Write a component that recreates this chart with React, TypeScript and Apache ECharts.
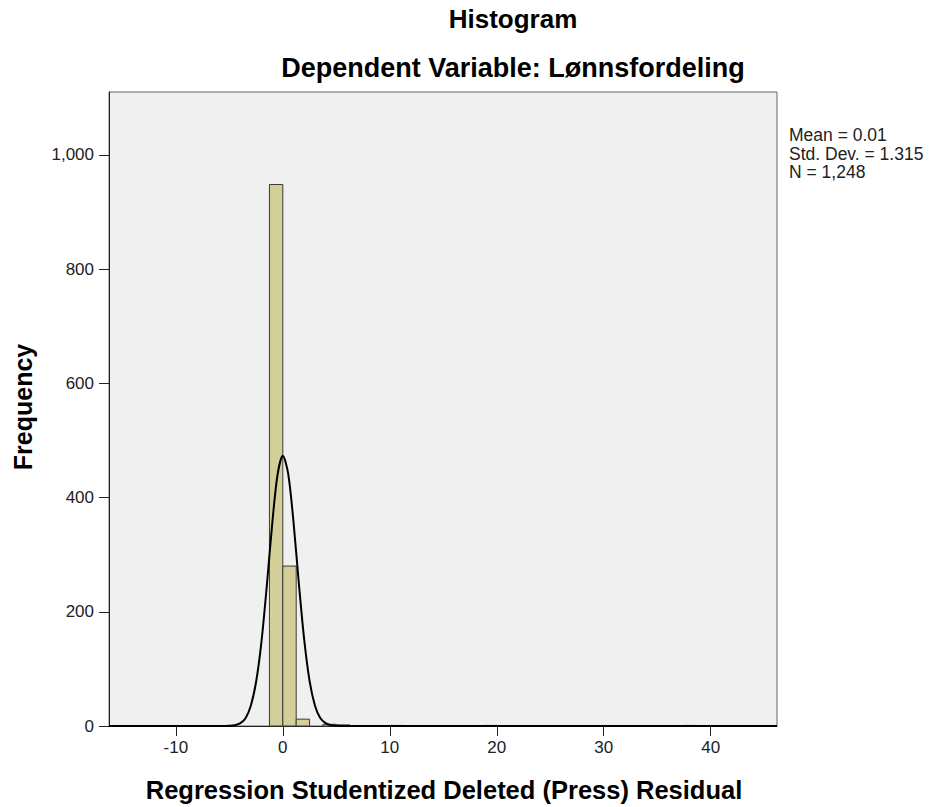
import React, { useEffect, useRef } from "react";
import * as echarts from "echarts";

// Histogram bins (left edge, count); bin width 1.25
const binWidth = 1.25;
const binLefts = [-1.25, 0, 1.25, 3.75, 5, 10, 18.75, 37.5];
const binCounts = [948, 280, 12, 3, 2, 1, 1, 1];

// Normal curve overlay
const curveX = [-16.25, -6, -5, -4.5, -4, -3.5, -3, -2.5, -2, -1.5, -1, -0.5, 0, 0.5, 1, 1.5, 2, 2.5, 3, 3.5, 4, 4.5, 5, 6, 46.2];
const curveY = [0, 0, 0.3, 1.3, 4.5, 13, 35, 77, 147, 245, 352, 439, 473, 442, 357, 249, 151, 79, 36, 14, 5, 1.4, 0.4, 0, 0];

const xTicks = [-10, 0, 10, 20, 30, 40];
const yTicks = [0, 200, 400, 600, 800, 1000];

const statsLines = ["Mean = 0.01", "Std. Dev. = 1.315", "N = 1,248"];

const titleText = "Histogram";
const subtitleText = "Dependent Variable: Lønnsfordeling";
const xName = "Regression Studentized Deleted (Press) Residual";
const yName = "Frequency";

const FONT = '"Liberation Sans", Arial, sans-serif';

export default function App() {
  const ref = useRef<HTMLDivElement>(null);
  useEffect(() => {
    if (!ref.current) return;
    const chart = echarts.init(ref.current, undefined, { renderer: "svg" });
    const statsGraphics = statsLines.map((t, i) => ({
      type: "text",
      x: 789,
      y: 135 + i * 18.5,
      style: {
        text: t,
        font: `17.5px ${FONT}`,
        fill: "#222",
        textAlign: "left",
        textVerticalAlign: "middle",
      },
    }));
    const option: any = {
      animation: false,
      backgroundColor: "#ffffff",
      textStyle: { fontFamily: FONT },
      grid: {
        left: 109,
        right: 156,
        top: 92,
        bottom: 81,
        show: true,
        backgroundColor: "#F0F0F0",
        borderColor: "#666666",
        borderWidth: 1,
      },
      xAxis: {
        type: "value",
        min: -16.25,
        max: 46.2,
        splitLine: { show: false },
        axisLine: { show: true, onZero: false, lineStyle: { color: "#222", width: 1 } },
        axisTick: { show: true, length: 10, customValues: xTicks, lineStyle: { color: "#222", width: 1 } },
        axisLabel: {
          customValues: xTicks,
          margin: 13,
          fontSize: 17,
          color: "#222",
          fontFamily: FONT,
        },
      },
      yAxis: {
        type: "value",
        min: 0,
        max: 1110,
        splitLine: { show: false },
        axisLine: { show: true, onZero: false, lineStyle: { color: "#222", width: 1 } },
        axisTick: { show: true, length: 10, customValues: yTicks, lineStyle: { color: "#222", width: 1 } },
        axisLabel: {
          customValues: yTicks,
          margin: 15,
          fontSize: 17,
          color: "#222",
          fontFamily: FONT,
          formatter: (v: number) => v.toLocaleString("en-US"),
        },
      },
      series: [
        {
          type: "custom",
          z: 2,
          encode: { x: [0, 1], y: 2 },
          data: binLefts.map((l, i) => [l, l + binWidth, binCounts[i]]),
          renderItem: (params: any, api: any) => {
            const p0 = api.coord([api.value(0), api.value(2)]);
            const p1 = api.coord([api.value(1), 0]);
            return {
              type: "rect",
              shape: { x: p0[0], y: p0[1], width: p1[0] - p0[0], height: p1[1] - p0[1] },
              style: { fill: "#D4CF98", stroke: "#3a3a3a", lineWidth: 1 },
            };
          },
        },
        {
          type: "line",
          z: 3,
          data: curveX.map((x, i) => [x, curveY[i]]),
          smooth: 0.3,
          showSymbol: false,
          symbol: "none",
          lineStyle: { color: "#000", width: 2 },
        },
      ],
      graphic: [
        {
          type: "text",
          x: 513,
          y: 19,
          style: {
            text: titleText,
            font: `bold 26px ${FONT}`,
            fill: "#000",
            textAlign: "center",
            textVerticalAlign: "middle",
          },
        },
        {
          type: "text",
          x: 513,
          y: 68,
          style: {
            text: subtitleText,
            font: `bold 27px ${FONT}`,
            fill: "#000",
            textAlign: "center",
            textVerticalAlign: "middle",
          },
        },
        {
          type: "text",
          x: 444,
          y: 790,
          style: {
            text: xName,
            font: `bold 25.5px ${FONT}`,
            fill: "#000",
            textAlign: "center",
            textVerticalAlign: "middle",
          },
        },
        {
          type: "text",
          x: 23,
          y: 407,
          rotation: Math.PI / 2,
          style: {
            text: yName,
            font: `bold 25px ${FONT}`,
            fill: "#000",
            textAlign: "center",
            textVerticalAlign: "middle",
          },
        },
        ...statsGraphics,
      ],
    };
    chart.setOption(option);
    return () => chart.dispose();
  }, []);
  return (
    <div
      ref={ref}
      style={{ position: "fixed", left: 0, top: 0, width: 933, height: 807 }}
    />
  );
}
